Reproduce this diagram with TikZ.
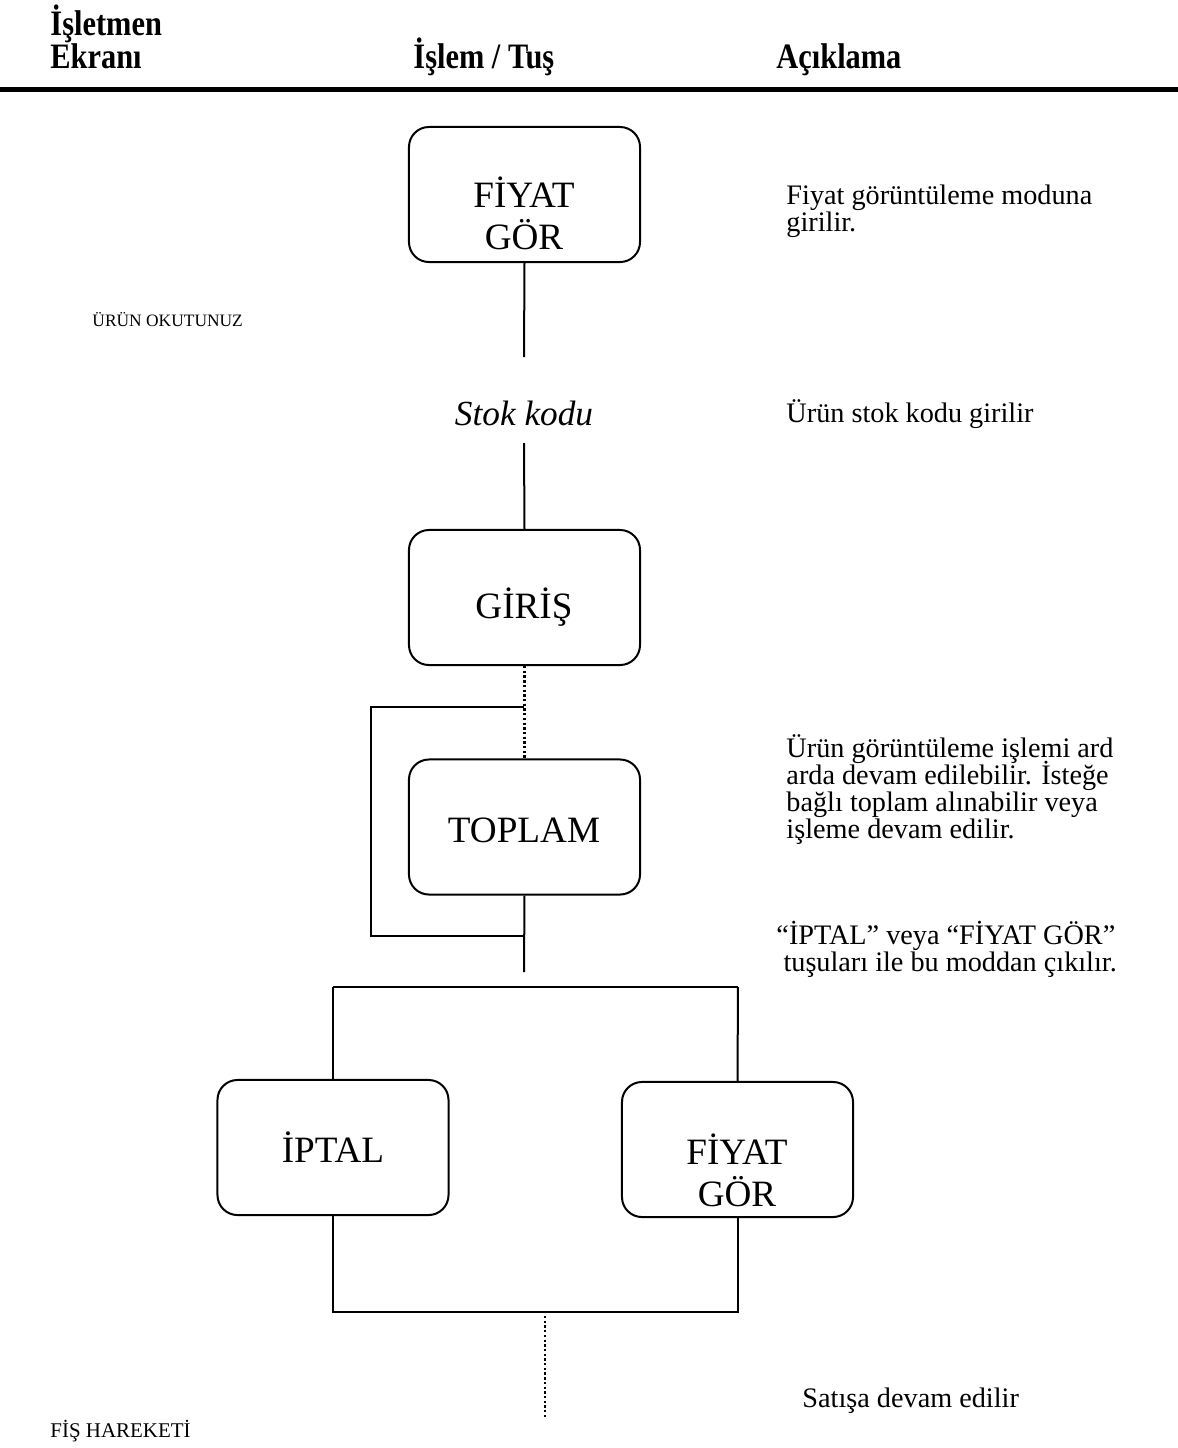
\documentclass[tikz,border=0pt]{standalone}
\usepackage{fontspec}
\setmainfont{Liberation Serif}
\newfontfamily\kopffont{Liberation Serif}[FakeStretch=0.85]
\usetikzlibrary{positioning}
\AtBeginDocument{\lineskiplimit=-20pt\relax}

\begin{document}
\begin{tikzpicture}[x=0.425pt, y=-0.425pt,
    taste/.style={draw, line width=0.85pt, rounded corners=8.5pt, minimum width=98.2pt, minimum height=57.4pt, inner sep=0pt},
    linie/.style={line width=0.85pt},
    punkte/.style={line width=1pt, dash pattern=on 1pt off 1pt},
    kopf/.style={font=\kopffont\fontsize{15.2}{17}\selectfont\bfseries, inner sep=0pt, anchor=base west},
    tastentext/.style={font=\fontsize{15.8}{17.85}\selectfont, inner sep=0pt, align=center},
    notiz/.style={font=\fontsize{12}{11.5}\selectfont, inner sep=0pt, align=left, anchor=north west},
    klein/.style={inner sep=0pt, anchor=base west}
]

\useasboundingbox (0,0) rectangle (1178,1448);

% Kopfzeile
\node[kopf] (kopf1) at (50,35) {İşletmen};
\node[kopf] (kopf2) at (50,68) {Ekranı};
\node[kopf] (kopf3) at (413,68) {İşlem / Tuş};
\node[kopf] (kopf4) at (776,68) {Açıklama};
\draw[line width=2.1pt] (0,89.5) -- (1178,89.5);

% Tasten
\node[taste] (fiyat) at (524.5,194.5) {};
\node[tastentext] (fiyattext) at (524,213) {FİYAT\\GÖR};
\node[taste] (giris) at (524.5,597.5) {};
\node[tastentext, anchor=base] (giristext) at (524,618) {GİRİŞ};
\node[taste] (toplam) at (524.5,827) {};
\node[tastentext, anchor=base] (toplamtext) at (524,842) {TOPLAM};
\node[taste] (iptal) at (333,1147.5) {};
\node[tastentext, anchor=base] (iptaltext) at (333,1162) {İPTAL};
\node[taste] (fiyatb) at (737.5,1149.5) {};
\node[tastentext] (fiyatbtext) at (737,1170) {FİYAT\\GÖR};

% Stok kodu
\node[font=\fontsize{15}{17}\selectfont\itshape, inner sep=0pt, anchor=base] (stok) at (524,425) {Stok kodu};

% Verbindungen
\coordinate (e1) at (524,357);
\draw[linie] (fiyat.south) -- (e1);
\coordinate (s1) at (524,443);
\draw[linie] (s1) -- (giris.north);
\draw[punkte] (giris.south) -- (toplam.north);

% Schleife
\coordinate (r1) at (524,707);
\coordinate (r2) at (524,936);
\draw[linie] (r1) -- ++(-153,0) |- (r2);
\coordinate (t1) at (524,972);
\draw[linie] (toplam.south) -- (t1);

% Verzweigung
\coordinate (v1) at (333,987);
\coordinate (v2) at (738,987);
\draw[linie] (v1) -- (v2);
\draw[linie] (v1) -- (iptal.north);
\draw[linie] (v2) -- (fiyatb.north);
\draw[linie] (iptal.south) -- ++(0,96) -| (fiyatb.south);
\coordinate (u1) at (545,1316);
\coordinate (u2) at (545,1419);
\draw[punkte] (u1) -- (u2);

% Erklaerungen
\node[notiz, font=\fontsize{12}{11.8}\selectfont] (not1) at (786,184) {Fiyat görüntüleme moduna\\girilir.};
\node[notiz, anchor=base west] (not2) at (786,422) {Ürün stok kodu girilir};
\node[notiz] (not3) at (786,734) {Ürün görüntüleme işlemi ard\\arda devam edilebilir. İsteğe\\bağlı toplam alınabilir veya\\işleme devam edilir.};
\node[notiz] (not4) at (776,921) {“İPTAL” veya “FİYAT GÖR”\\~tuşuları ile bu moddan çıkılır.};
\node[notiz, anchor=base west] (not5) at (802,1407) {Satışa devam edilir};

% Ekran
\node[klein, font=\fontsize{7.4}{9}\selectfont] (ekran1) at (92,326) {ÜRÜN OKUTUNUZ};
\node[klein, font=\fontsize{8.9}{10}\selectfont] (ekran2) at (50,1437) {FİŞ HAREKETİ};
\end{tikzpicture}
\end{document}
